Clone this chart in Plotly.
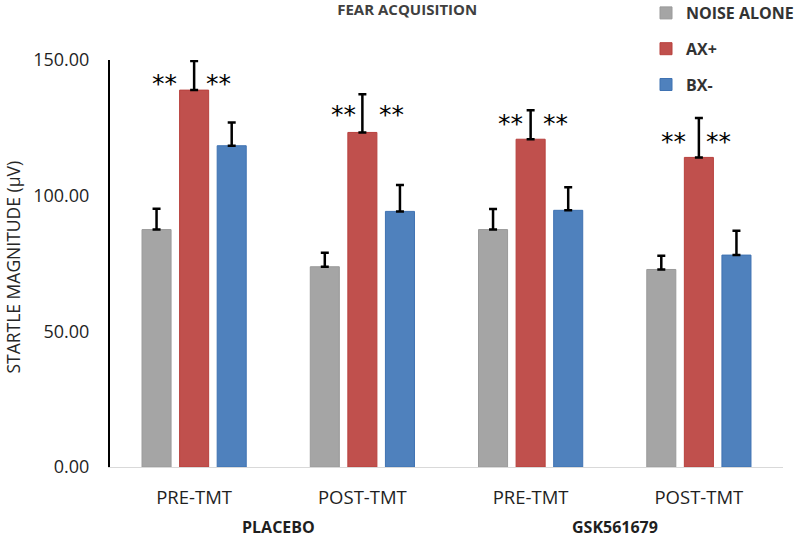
import plotly.graph_objects as go

# ---- data ----
conditions = ["PRE-TMT", "POST-TMT", "PRE-TMT", "POST-TMT"]
groups = ["PLACEBO", "GSK561679"]
group_of_condition = [0, 0, 1, 1]

noise_alone = [87.5, 73.8, 87.5, 72.8]
noise_alone_err = [7.7, 5.2, 7.6, 5.1]
ax_plus = [138.9, 123.3, 120.8, 114.1]
ax_plus_err = [10.7, 14.1, 10.7, 14.5]
bx_minus = [118.4, 94.2, 94.6, 78.1]
bx_minus_err = [8.6, 9.7, 8.5, 9.0]

# significance markers ("**") next to the AX+ bars
star_text = "**"
star_y = [142.3, 131.0, 127.6, 121.0]
star_left_shift = [-30, -19, -20, -25]
star_right_shift = [24, 29, 25, 20]

y_ticks = [0, 50, 100, 150]
y_title = "STARTLE MAGNITUDE (µV)"
chart_title = "FEAR ACQUISITION"

series = [
    ("NOISE ALONE", noise_alone, noise_alone_err, "#A5A5A5", "#9A9A9A"),
    ("AX+", ax_plus, ax_plus_err, "#C0504D", "#B8403D"),
    ("BX-", bx_minus, bx_minus_err, "#4F81BD", "#3F72B2"),
]

xpos = list(range(len(conditions)))
TXT = "#1f1f1f"
FONT = "Open Sans"

W, H = 800, 537
ML, MR, MT, MB = 110, 17, 60, 70
PH = H - MT - MB
PW = W - ML - MR

fig = go.Figure()
for i, (name, vals, errs, col, lcol) in enumerate(series):
    fig.add_trace(go.Bar(
        name=name, x=xpos, y=vals,
        marker=dict(color=col, line=dict(color=lcol, width=1)),
        error_y=dict(type="data", array=errs, arrayminus=[0] * len(errs),
                     symmetric=False, color="black", thickness=2.5, width=4),
        legendgroup=name,
    ))

annotations = []
for i in xpos:
    for sh in (star_left_shift[i], star_right_shift[i]):
        annotations.append(dict(
            x=i, y=star_y[i], xref="x", yref="y", text=star_text, showarrow=False,
            xshift=sh, yshift=-3, font=dict(family="DejaVu Sans", size=25, color="black"),
            xanchor="center", yanchor="middle"))

for g, gname in enumerate(groups):
    idx = [k for k, gg in enumerate(group_of_condition) if gg == g]
    annotations.append(dict(
        x=sum(idx) / len(idx), y=-(527 - (MT + PH)) / PH, xref="x", yref="paper",
        yanchor="middle", text="<b>%s</b>" % gname, showarrow=False,
        font=dict(family=FONT, size=16, color=TXT), xanchor="center"))

# y-axis title
annotations.append(dict(
    x=0, xref="paper", xshift=13 - ML, y=0.49, yref="paper", text=y_title, textangle=-90,
    showarrow=False, xanchor="center", yanchor="middle",
    font=dict(family=FONT, size=17.5, color="#262626")))

fig.update_layout(
    width=W, height=H,
    margin=dict(l=ML, r=MR, t=MT, b=MB, autoexpand=False),
    paper_bgcolor="white", plot_bgcolor="white",
    barmode="group", bargap=0.33, bargroupgap=0.227,
    title=dict(text="<b>%s</b>" % chart_title, x=0.509, xanchor="center",
               y=0.982, yref="container", yanchor="middle",
               font=dict(family=FONT, size=15, color="#404040")),
    legend=dict(x=(646 - ML) / PW, xanchor="left", y=1 + (MT + 4) / PH, yanchor="top",
                traceorder="grouped", tracegroupgap=12,
                font=dict(family=FONT, size=16, color="#333333", weight="bold"),
                bgcolor="rgba(0,0,0,0)"),
    xaxis=dict(tickmode="array", tickvals=xpos, ticktext=conditions,
               range=[-0.5, len(xpos) - 0.5],
               showline=True, linecolor="#D9D9D9", linewidth=1, showgrid=False, zeroline=False,
               ticks="", ticklabelstandoff=14, automargin=False,
               tickfont=dict(family=FONT, size=18.5, color=TXT)),
    yaxis=dict(range=[0, 150], tickvals=y_ticks,
               tickformat=".2f", automargin=False,
               showline=True, linecolor="black", linewidth=2, showgrid=False, zeroline=False,
               ticks="", ticklabelstandoff=15,
               tickfont=dict(family=FONT, size=18, color=TXT)),
    annotations=annotations,
)

fig.write_html("out.html", config={"displayModeBar": False},
               post_script="document.body.style.margin='0px';")
